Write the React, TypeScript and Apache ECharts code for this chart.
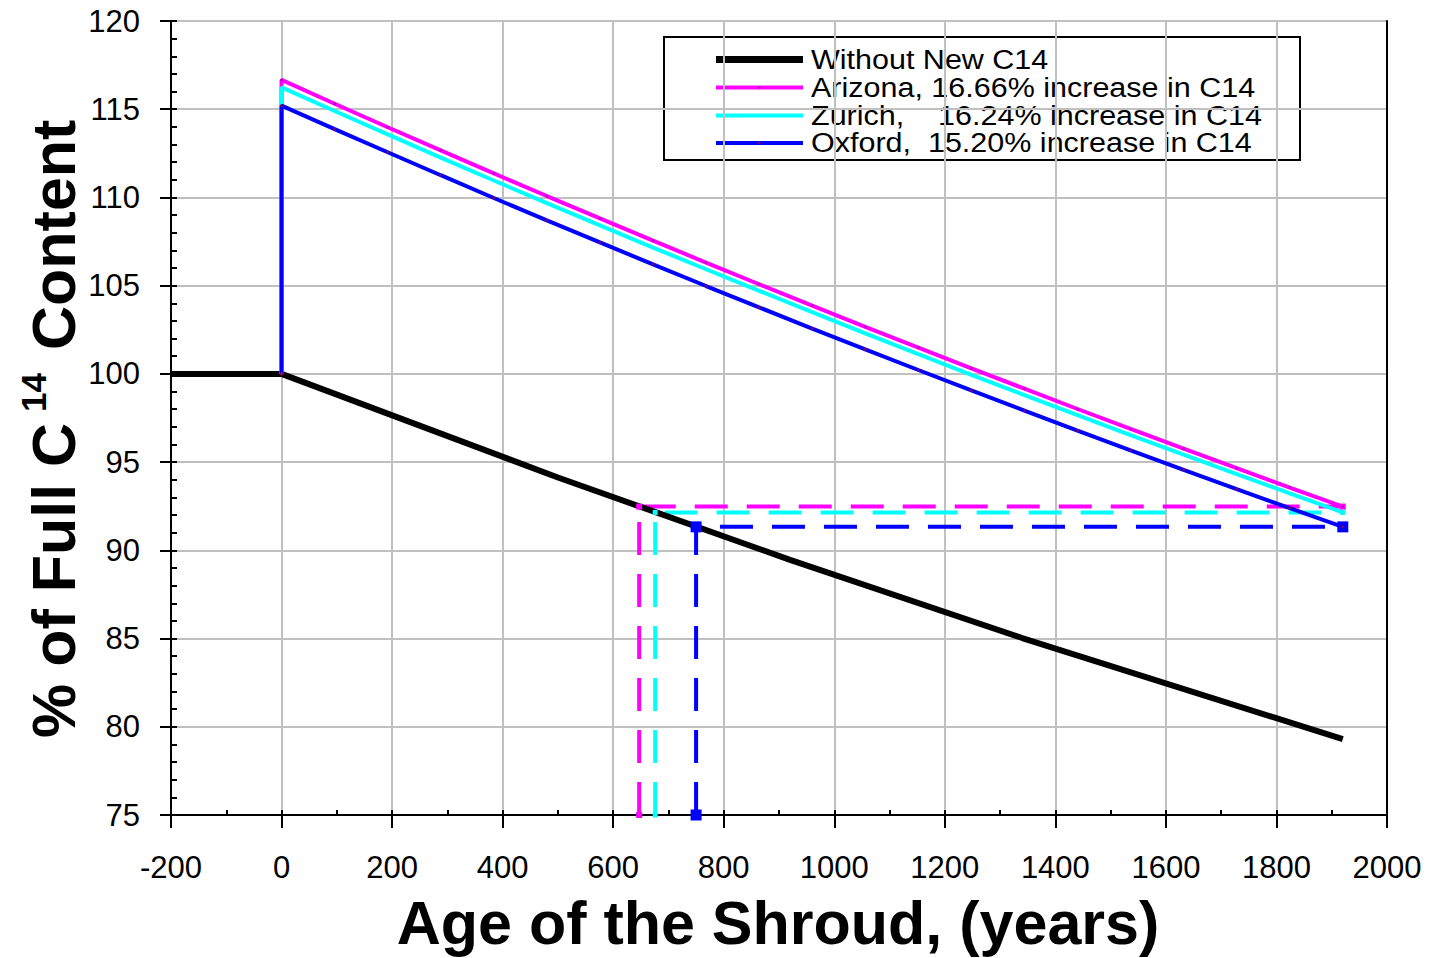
import React, { useEffect, useRef } from "react";
import * as echarts from "echarts";

// ---- data ----
const ages = [0, 96, 192, 288, 384, 480, 576, 672, 768, 864, 960, 1056, 1152, 1248, 1344, 1440, 1536, 1632, 1728, 1824, 1920];
const arizona = [116.66, 115.31, 113.98, 112.67, 111.36, 110.08, 108.81, 107.55, 106.31, 105.08, 103.87, 102.67, 101.49, 100.31, 99.16, 98.01, 96.88, 95.76, 94.66, 93.56, 92.48];
const zurich = [116.24, 114.9, 113.57, 112.26, 110.96, 109.68, 108.42, 107.16, 105.93, 104.71, 103.5, 102.3, 101.12, 99.95, 98.8, 97.66, 96.53, 95.42, 94.32, 93.23, 92.15];
const oxford = [115.2, 113.87, 112.56, 111.26, 109.97, 108.7, 107.45, 106.21, 104.98, 103.77, 102.57, 101.39, 100.22, 99.06, 97.92, 96.78, 95.67, 94.56, 93.47, 92.39, 91.33];
const baseAges = [-200, 0, 500, 920, 1340, 1920];
const baseLevels = [100, 100, 94.13, 89.46, 85.03, 79.3];
const startLevel = 100;
const matchAges = [647, 676, 750];
const matchLevels = [92.48, 92.15, 91.33];
const floorLevel = 75;
const endAge = 1920;
const seriesNames = [
  "Without New C14",
  "Arizona, 16.66% increase in C14",
  "Zurich,    16.24% increase in C14",
  "Oxford,  15.20% increase in C14",
];
const xMin = -200, xMax = 2000, xStep = 200;
const yMin = 75, yMax = 120, yStep = 5;
const xTitle = "Age of the Shroud, (years)";
const yTitleParts = ["% of Full C", "14", "Content"];

const FONT = '"Liberation Sans", Arial, sans-serif';
const colors = ["#000000", "#ff00ff", "#00ffff", "#0000ff"];
const lineWidths = [6, 4, 4, 4];
const legendDots = [null, "#c000c0", null, "#800060"];

export default function App() {
  const ref = useRef<HTMLDivElement>(null);
  useEffect(() => {
    if (!ref.current) return;
    const chart = echarts.init(ref.current, undefined, { renderer: "svg" });
    const lab = (vals: number[]) => [[0, startLevel], ...ages.map((a, i) => [a, vals[i]])];
    const matchData = (i: number) => [
      [matchAges[i], floorLevel],
      [matchAges[i], matchLevels[i]],
      [endAge, matchLevels[i]],
    ];
    const grid = { left: 171, top: 21, width: 1216, height: 794 };
    const xBase = { type: "value", min: xMin, max: xMax, interval: xStep, gridIndex: 0 };
    const yBase = { type: "value", min: yMin, max: yMax, interval: yStep, gridIndex: 0 };
    const noZero = { onZero: false };

    // legend drawn as graphic
    const legLeft = 664, legTop = 37, legW = 636, legH = 123;
    const rowY = [59.5, 87.5, 115.5, 143];
    const legendChildren: any[] = [
      {
        type: "rect",
        shape: { x: legLeft, y: legTop, width: legW, height: legH },
        style: { fill: "#fff", stroke: "#000", lineWidth: 2 },
      },
    ];
    seriesNames.forEach((name, i) => {
      legendChildren.push({
        type: "line",
        shape: { x1: 716, y1: rowY[i], x2: 803, y2: rowY[i] },
        style: { stroke: colors[i], lineWidth: lineWidths[i] + (i === 0 ? 1 : 0) },
      });
      if (legendDots[i]) {
        legendChildren.push({
          type: "circle",
          shape: { cx: 759, cy: rowY[i], r: 1.5 },
          style: { fill: legendDots[i] as string },
        });
      }
      legendChildren.push({
        type: "text",
        x: 811,
        y: rowY[i],
        scaleX: 1.13,
        style: {
          text: name,
          fontSize: 27,
          fontFamily: FONT,
          fill: "#000",
          align: "left",
          verticalAlign: "middle",
        },
      });
    });

    const option: any = {
      animation: false,
      textStyle: { fontFamily: FONT },
      grid,
      xAxis: [
        {
          ...xBase,
          position: "bottom",
          axisLine: { show: true, ...noZero, lineStyle: { color: "#000", width: 2 } },
          axisTick: { show: true, inside: false, length: 13, lineStyle: { color: "#000", width: 2 } },
          axisLabel: {
            show: true,
            color: "#000",
            fontSize: 31,
            fontFamily: FONT,
            margin: 37,
            formatter: (v: number) => String(v),
          },
          splitLine: { show: true, lineStyle: { color: "#c0c0c0", width: 2 } },
        },
        {
          ...xBase,
          position: "bottom",
          axisLine: { show: false, ...noZero },
          axisTick: { show: true, inside: true, length: 5, lineStyle: { color: "#000", width: 2 } },
          minorTick: { show: true, splitNumber: 2, length: 5, lineStyle: { color: "#000", width: 2 } },
          axisLabel: { show: false },
          splitLine: { show: false },
        },
      ],
      yAxis: [
        {
          ...yBase,
          position: "left",
          axisLine: { show: true, ...noZero, lineStyle: { color: "#000", width: 2 } },
          axisTick: { show: true, inside: false, length: 11, lineStyle: { color: "#000", width: 2 } },
          axisLabel: { show: true, color: "#000", fontSize: 31, fontFamily: FONT, margin: 31 },
          splitLine: { show: true, lineStyle: { color: "#c0c0c0", width: 2 } },
        },
        {
          ...yBase,
          position: "left",
          axisLine: { show: false, ...noZero },
          axisTick: { show: true, inside: true, length: 6, lineStyle: { color: "#000", width: 2 } },
          minorTick: { show: true, splitNumber: 5, length: 6, lineStyle: { color: "#000", width: 2 } },
          axisLabel: { show: false },
          splitLine: { show: false },
        },
        {
          ...yBase,
          position: "right",
          axisLine: { show: true, ...noZero, lineStyle: { color: "#000", width: 2 } },
          axisTick: { show: false },
          axisLabel: { show: false },
          splitLine: { show: false },
        },
      ],
      series: [
        {
          name: "Arizona match",
          type: "line",
          data: matchData(0),
          lineStyle: { color: colors[1], width: 4, type: [33, 19] },
          symbol: "rect",
          symbolSize: 6,
          itemStyle: { color: colors[1] },
          emphasis: { disabled: true },
          silent: true,
        },
        {
          name: "Zurich match",
          type: "line",
          data: matchData(1),
          lineStyle: { color: colors[2], width: 4, type: [33, 19] },
          symbol: "rect",
          symbolSize: 5,
          itemStyle: { color: colors[2] },
          emphasis: { disabled: true },
          silent: true,
        },
        {
          name: seriesNames[0],
          type: "line",
          data: baseAges.map((a, i) => [a, baseLevels[i]]),
          lineStyle: { color: colors[0], width: lineWidths[0] },
          itemStyle: { color: colors[0] },
          symbol: "none",
          emphasis: { disabled: true },
          silent: true,
        },
        {
          name: "Oxford match",
          type: "line",
          data: matchData(2),
          lineStyle: { color: colors[3], width: 4, type: [33, 19] },
          symbol: "rect",
          symbolSize: 11,
          itemStyle: { color: colors[3] },
          emphasis: { disabled: true },
          silent: true,
        },
        {
          name: seriesNames[1],
          type: "line",
          data: lab(arizona),
          lineStyle: { color: colors[1], width: lineWidths[1] },
          symbol: "circle",
          symbolSize: 3,
          itemStyle: { color: "#c000c0" },
          emphasis: { disabled: true },
          silent: true,
        },
        {
          name: seriesNames[2],
          type: "line",
          data: lab(zurich),
          lineStyle: { color: colors[2], width: lineWidths[2] },
          itemStyle: { color: colors[2] },
          symbol: "none",
          emphasis: { disabled: true },
          silent: true,
        },
        {
          name: seriesNames[3],
          type: "line",
          data: lab(oxford),
          lineStyle: { color: colors[3], width: lineWidths[3] },
          symbol: "circle",
          symbolSize: 3,
          itemStyle: { color: "#800060" },
          emphasis: { disabled: true },
          silent: true,
        },
      ],
      graphic: [
        {
          type: "group",
          z: 100,
          children: legendChildren,
        },
        {
          type: "text",
          x: 778,
          y: 923,
          style: {
            text: xTitle,
            fontSize: 61,
            fontWeight: "bold",
            fontFamily: FONT,
            fill: "#000",
            align: "center",
            verticalAlign: "middle",
          },
        },
        {
          type: "group",
          x: 54,
          y: 738,
          rotation: Math.PI / 2,
          children: [
            {
              type: "text",
              x: 0,
              y: 0,
              style: { text: yTitleParts[0], fontSize: 61, fontWeight: "bold", fontFamily: FONT, fill: "#000", align: "left", verticalAlign: "middle" },
            },
            {
              type: "text",
              x: 326,
              y: -21,
              style: { text: yTitleParts[1], fontSize: 35, fontWeight: "bold", fontFamily: FONT, fill: "#000", align: "left", verticalAlign: "middle" },
            },
            {
              type: "text",
              x: 388,
              y: 0,
              style: { text: yTitleParts[2], fontSize: 61, fontWeight: "bold", fontFamily: FONT, fill: "#000", align: "left", verticalAlign: "middle" },
            },
          ],
        },
      ],
    };
    chart.setOption(option);
    return () => chart.dispose();
  }, []);
  return (
    <div
      ref={ref}
      style={{ position: "fixed", left: 0, top: 0, width: 1433, height: 958, background: "#fff" }}
    />
  );
}
